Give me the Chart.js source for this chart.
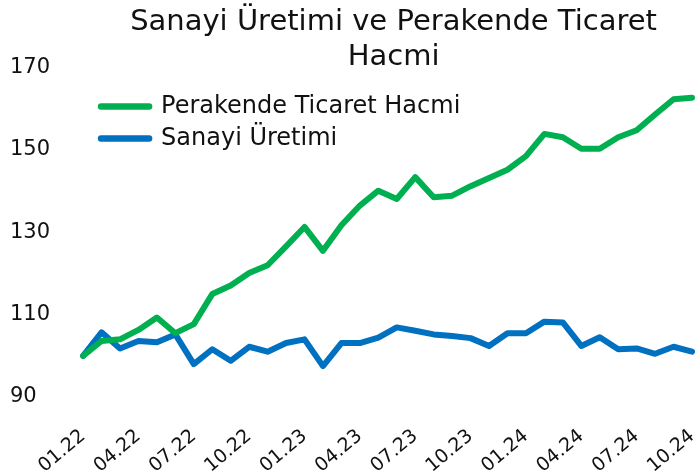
<!DOCTYPE html>
<html>
<head>
<meta charset="utf-8">
<script src="https://cdn.jsdelivr.net/npm/chart.js@4.4.1/dist/chart.umd.min.js"></script>
<style>
html,body{margin:0;padding:0;background:#fff;}
#wrap{width:698px;height:476px;}
</style>
</head>
<body>
<div id="wrap"><canvas id="c"></canvas></div>
<script>
const months = ["01.22","02.22","03.22","04.22","05.22","06.22","07.22","08.22","09.22","10.22","11.22","12.22",
"01.23","02.23","03.23","04.23","05.23","06.23","07.23","08.23","09.23","10.23","11.23","12.23",
"01.24","02.24","03.24","04.24","05.24","06.24","07.24","08.24","09.24","10.24"];
const perakende = [100,103.6,104,106.3,109.3,105.5,107.7,115,117.1,120.1,122,126.6,131.3,125.5,131.7,136.5,140.1,138.1,143.4,138.5,138.9,141.2,143.2,145.2,148.5,153.9,153.1,150.3,150.3,153.1,154.8,158.6,162.3,162.7];
const sanayi = [100,105.7,101.8,103.6,103.3,105.2,98,101.6,98.8,102.2,101,103.1,104,97.5,103.1,103.1,104.4,106.9,106.1,105.2,104.8,104.3,102.4,105.5,105.5,108.3,108.1,102.4,104.5,101.6,101.8,100.5,102.2,101];
const yTicks = [90,110,130,150,170];
const titleLines = ["Sanayi Üretimi ve Perakende Ticaret","Hacmi"];

const FONT = "'DejaVu Sans', sans-serif";

const boxShift = {
  id: 'boxShift',
  afterLayout(chart) {
    const lg = chart.legend, ca = chart.chartArea, tb = chart.titleBlock;
    if (lg) {
      const w = lg.width, h = lg.height;
      lg.left = ca.left + 10; lg.right = lg.left + w;
      lg.top = ca.top + 19; lg.bottom = lg.top + h;
    }
    if (tb) { tb.left += 6; tb.right += 6; }
  }
};

new Chart(document.getElementById('c'), {
  type: 'line',
  data: {
    labels: months,
    datasets: [
      {label: 'Perakende Ticaret Hacmi', data: perakende, borderColor: '#00B050', backgroundColor: '#00B050', borderWidth: 6, pointRadius: 0, borderCapStyle: 'round', borderJoinStyle: 'round', tension: 0},
      {label: 'Sanayi Üretimi', data: sanayi, borderColor: '#0070C0', backgroundColor: '#0070C0', borderWidth: 6, pointRadius: 0, borderCapStyle: 'round', borderJoinStyle: 'round', tension: 0}
    ]
  },
  plugins: [boxShift],
  options: {
    responsive: true,
    maintainAspectRatio: false,
    animation: false,
    layout: {padding: {left: 10, right: 6, top: 2, bottom: 0}},
    plugins: {
      title: {
        display: true, text: titleLines, fullSize: false,
        color: '#111', font: {family: FONT, size: 29, weight: 'normal', lineHeight: 1.2},
        padding: {top: 3, bottom: -7}
      },
      legend: {
        position: 'chartArea', align: 'start',
        labels: {
          usePointStyle: true, pointStyleWidth: 48, padding: 8,
          color: '#111', font: {family: FONT, size: 24},
          generateLabels: (chart) => Chart.defaults.plugins.legend.labels.generateLabels(chart).map(l => Object.assign(l, {pointStyle: 'line', lineWidth: 6.5, lineCap: 'round'}))
        }
      },
      tooltip: {enabled: false}
    },
    scales: {
      x: {
        grid: {display: false, drawTicks: false}, border: {display: false},
        afterFit: (s) => { s.paddingLeft = 0; s.paddingRight = 0; s.height = 79; },
        ticks: {
          autoSkip: false, minRotation: 40, maxRotation: 40, padding: 28,
          color: '#111', font: {family: FONT, size: 19},
          callback: function(v, i) { return i % 3 === 0 ? months[i] : null; }
        }
      },
      y: {
        min: 90, max: 170,
        afterBuildTicks: (s) => { s.ticks = yTicks.map(v => ({value: v})); },
        grid: {display: false, drawTicks: false}, border: {display: false},
        ticks: {crossAlign: 'far', padding: 16.5, color: '#111', font: {family: FONT, size: 21}}
      }
    }
  }
});
</script>
</body>
</html>
